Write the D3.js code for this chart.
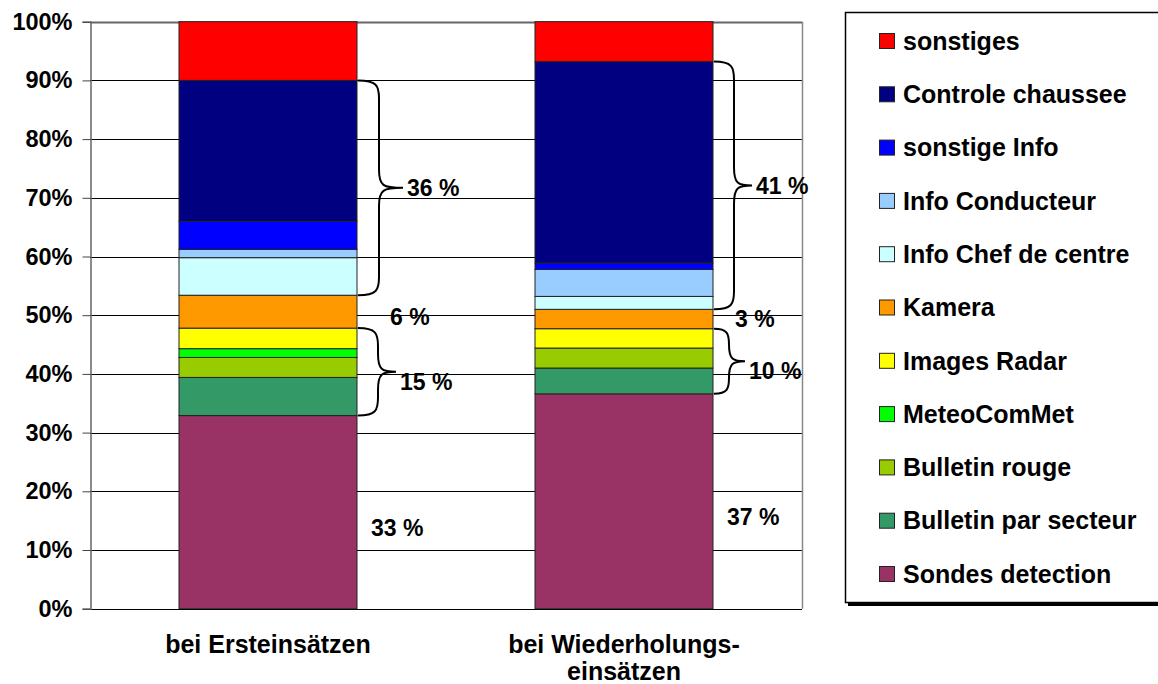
<!DOCTYPE html>
<html><head><meta charset="utf-8">
<script src="https://cdn.jsdelivr.net/npm/d3@7"></script>
<style>body{margin:0;background:#fff}svg{display:block;font-family:"Liberation Sans",Arial,sans-serif;font-weight:bold}</style>
</head><body>
<svg id="c" width="1158" height="684"></svg>
<script>
const categories = ["bei Ersteinsätzen", "bei Wiederholungs-\neinsätzen"];
// series, bottom to top
const seriesNames = ["Sondes detection","Bulletin par secteur","Bulletin rouge","MeteoComMet","Images Radar","Kamera","Info Chef de centre","Info Conducteur","sonstige Info","Controle chaussee","sonstiges"];
const seriesColors = ["#993366","#339966","#99CC00","#00FF00","#FFFF00","#FF9900","#CCFFFF","#99CCFF","#0000FF","#000080","#FF0000"];
const valuesErst = [32.9, 6.5, 3.4, 1.5, 3.5, 5.6, 6.4, 1.4, 4.8, 24.0, 10.0];
const valuesWied = [36.6, 4.4, 3.4, 0.0, 3.3, 3.3, 2.2, 4.6, 1.1, 34.3, 6.8];
const yTicks = [0,10,20,30,40,50,60,70,80,90,100];
// annotations: [bottom brace label, single label, top brace label, base label]
const annErst = ["15 %", "6 %", "36 %", "33 %"];
const annWied = ["10 %", "3 %", "41 %", "37 %"];
// brace groups as series index ranges
const lowGroup = [1, 4];
const singleIdx = 5;
const highGroup = [6, 9];

const svg = d3.select("#c");
const x = d3.scaleBand().domain(categories).range([90, 802]).paddingInner(0.5).paddingOuter(0.25);
const y = d3.scaleLinear().domain([0, 100]).range([608.7, 21.7]);

// gridlines
svg.append("g").selectAll("line").data(yTicks).join("line")
  .attr("x1", 90).attr("x2", 802).attr("y1", d => Math.round(y(d)) + 0.5).attr("y2", d => Math.round(y(d)) + 0.5)
  .attr("stroke", d => d === 100 ? "#666" : "#000").attr("stroke-width", d => d === 100 ? 2 : 1);
// plot border right
svg.append("line").attr("x1", 802.5).attr("x2", 802.5).attr("y1", y(100)).attr("y2", y(0)).attr("stroke", "#888").attr("stroke-width", 1.5);

// y axis
const yAxis = d3.axisLeft(y).tickValues(yTicks).tickFormat(d => d + "%").tickSize(8).tickPadding(10);
const ga = svg.append("g").attr("transform", "translate(90.5,0)").call(yAxis);
ga.select(".domain").attr("stroke", "#666").attr("stroke-width", 1.5);
ga.selectAll(".tick line").attr("stroke", "#444");
ga.selectAll(".tick text").attr("font-size", 23.5).attr("font-weight", "bold").attr("font-family", "Liberation Sans, Arial, sans-serif").attr("fill", "#000");

// stacked bars
const allVals = [valuesErst, valuesWied];
const rows = categories.map((c, i) => { const r = {cat: c}; seriesNames.forEach((s, j) => r[s] = allVals[i][j]); return r; });
const stack = d3.stack().keys(seriesNames)(rows);
svg.append("g").selectAll("g").data(stack).join("g")
  .attr("fill", (d, i) => seriesColors[i])
  .selectAll("rect").data(d => d).join("rect")
  .attr("x", d => x(d.data.cat)).attr("width", x.bandwidth())
  .attr("y", d => y(d[1])).attr("height", d => Math.max(0, y(d[0]) - y(d[1])))
  .attr("stroke", "#222").attr("stroke-width", 1);

// braces
function bracePath(x0, yTop, yBot, bw, tw) {
  const xm = x0 + bw, xt = x0 + tw, ym = (yTop + yBot) / 2;
  const r = Math.min(18, (yBot - yTop) / 4);
  return `M${x0},${yTop} C${x0 + bw * 0.9},${yTop} ${xm},${yTop + r * 0.3} ${xm},${yTop + r}` +
    ` L${xm},${ym - r} C${xm},${ym - 2} ${xm + 4},${ym} ${xt},${ym}` +
    ` C${xm + 4},${ym} ${xm},${ym + 2} ${xm},${ym + r}` +
    ` L${xm},${yBot - r} C${xm},${yBot - r * 0.3} ${x0 + bw * 0.9},${yBot} ${x0},${yBot}`;
}
const anns = [annErst, annWied];
const braceDims = [[[20, 38], [21, 45]], [[15, 31], [20, 38]]]; // [low, high] per bar: [bulge, tip]
const singleOff = [32, 21];
categories.forEach((c, i) => {
  const cum = d3.cumsum(allVals[i]);
  const base = j => j === 0 ? 0 : cum[j - 1];
  const x0 = x(c) + x.bandwidth() + 1;
  const g = svg.append("g");
  const groups = [lowGroup, highGroup];
  groups.forEach((grp, k) => {
    const yTop = y(cum[grp[1]]), yBot = y(base(grp[0]));
    const [bw, tw] = braceDims[i][k];
    g.append("path").attr("d", bracePath(x0, yTop, yBot, bw, tw))
      .attr("fill", "none").attr("stroke", "#000").attr("stroke-width", 2);
    g.append("text").attr("x", x0 + tw + 4).attr("y", (yTop + yBot) / 2 + (k === 0 ? 10 : 0))
      .attr("dy", "0.35em").attr("font-size", 23).text(anns[i][k === 0 ? 0 : 2]);
  });
  const ySingle = (y(base(singleIdx)) + y(cum[singleIdx])) / 2;
  g.append("text").attr("x", x0 + singleOff[i]).attr("y", Math.max(ySingle, 317)).attr("dy", "0.35em")
    .attr("font-size", 23).text(anns[i][1]);
  const yBase = (y(0) + y(cum[0])) / 2 + 16;
  g.append("text").attr("x", x0 + 13).attr("y", yBase).attr("dy", "0.35em")
    .attr("font-size", 23).text(anns[i][3]);
});

// x labels
const xl = svg.append("g").selectAll("text").data(categories).join("text")
  .attr("x", d => x(d) + x.bandwidth() / 2).attr("y", 644).attr("text-anchor", "middle")
  .attr("font-size", 25);
xl.selectAll("tspan").data(d => d.split("\n")).join("tspan")
  .attr("x", function() { return d3.select(this.parentNode).attr("x"); })
  .attr("dy", (d, i) => i === 0 ? "0.35em" : "27px").text(d => d);

// legend
const lg = svg.append("g");
lg.append("rect").attr("x", 848).attr("y", 15).attr("width", 330).attr("height", 591).attr("fill", "#000");
lg.append("rect").attr("x", 845.5).attr("y", 12.5).attr("width", 330).attr("height", 590).attr("fill", "#fff").attr("stroke", "#000").attr("stroke-width", 1.5);
const legItems = seriesNames.map((s, i) => ({name: s, color: seriesColors[i]})).reverse();
const ly = d3.scalePoint().domain(legItems.map(d => d.name)).range([41, 574]);
const li = lg.selectAll("g.li").data(legItems).join("g").attr("class", "li")
  .attr("transform", d => `translate(0,${ly(d.name)})`);
li.append("rect").attr("x", 879.5).attr("y", -7.5).attr("width", 15).attr("height", 15)
  .attr("fill", d => d.color).attr("stroke", "#222").attr("stroke-width", 1);
li.append("text").attr("x", 903).attr("y", 0).attr("dy", "0.35em").attr("font-size", 25).text(d => d.name);
</script>
</body></html>
